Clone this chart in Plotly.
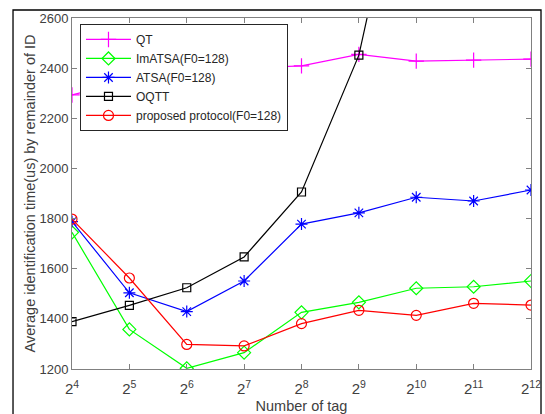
import plotly.graph_objects as go

tags = [16, 32, 64, 128, 256, 512, 1024, 2048, 4096]
tick_text = ["2<sup>%d</sup>" % e for e in range(4, 13)]

qt = [2293, 2350, 2385, 2400, 2409, 2455, 2428, 2432, 2436]
imatsa = [1745, 1358, 1203, 1265, 1426, 1466, 1522, 1528, 1551]
atsa = [1788, 1504, 1429, 1551, 1778, 1823, 1885, 1870, 1914]
oqtt = [1389, 1454, 1524, 1647, 1906, 2452, 3490, 5400, 9000]
proposed = [1798, 1563, 1298, 1292, 1381, 1434, 1414, 1462, 1455]

series = [
    ("QT", qt, "#FF00FF", "cross-thin-open", 11),
    ("ImATSA(F0=128)", imatsa, "#00FF00", "diamond-open", 10),
    ("ATSA(F0=128)", atsa, "#0000FF", "asterisk-open", 10),
    ("OQTT", oqtt, "#000000", "square-open", 8),
    ("proposed protocol(F0=128)", proposed, "#FF0000", "circle-open", 10),
]

fig = go.Figure()
for name, vals, col, sym, sz in series:
    fig.add_trace(go.Scatter(
        x=tags, y=vals, name=name, mode="lines+markers",
        line=dict(color=col, width=1.2),
        marker=dict(symbol=sym, size=sz, color=col, line=dict(color=col, width=1.2)),
        cliponaxis=True,
    ))

axis_common = dict(
    showline=True, linecolor="#808080", linewidth=1, mirror="ticks",
    ticks="inside", ticklen=5, tickcolor="#808080", showgrid=False, zeroline=False,
    automargin=False,
)

fig.update_layout(
    width=545, height=414,
    margin=dict(l=72, r=14, t=18, b=45),
    paper_bgcolor="white", plot_bgcolor="white",
    font=dict(family="Liberation Sans, Arial", color="#404040"),
    xaxis=dict(type="log", range=[1.20412, 3.61236], tickvals=tags, ticktext=tick_text,
               ticklabelstandoff=6,
               tickfont=dict(family="Liberation Sans, Arial", size=15, color="#404040"),
               title=dict(text="Number of tag", font=dict(size=14.5, color="#404040"), standoff=15),
               **axis_common),
    yaxis=dict(range=[1200, 2600], tickvals=list(range(1200, 2601, 200)),
               tickfont=dict(family="Liberation Sans, Arial", size=13, color="#404040"),
               title=dict(text="Average identification time(us) by remainder of ID",
                          font=dict(size=14.5, color="#404040"), standoff=0),
               **axis_common),
    legend=dict(x=0.0174, y=0.983, xanchor="left", yanchor="top",
                bgcolor="white", bordercolor="#262626", borderwidth=1,
                font=dict(family="Liberation Sans, Arial", size=12, color="#262626"),
                tracegroupgap=0, itemwidth=45),
    showlegend=True,
)

fig.add_shape(type="rect", xref="paper", yref="paper",
              x0=-0.1285, x1=1.0218, y0=-0.2, y1=1.0228,
              line=dict(color="black", width=1.3), fillcolor="rgba(0,0,0,0)", layer="below")

fig.write_html("out.html")
